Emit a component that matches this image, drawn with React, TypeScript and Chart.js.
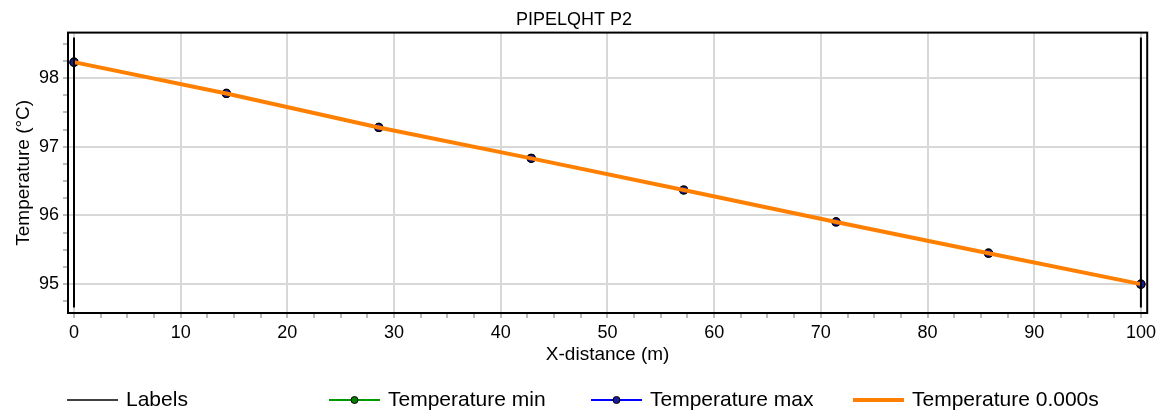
import React, { useEffect, useRef } from "react";
import { Chart, registerables } from "chart.js";

Chart.register(...registerables);

// ---- data ----
const chartTitle = "PIPELQHT P2";
const xTitle = "X-distance (m)";
const yTitle = "Temperature (°C)";
const xDistance = [0, 14.2857, 28.5714, 42.8571, 57.1429, 71.4286, 85.7143, 100];
const temperature0 = [98.23, 97.775, 97.28, 96.83, 96.37, 95.905, 95.45, 95.0];
const temperatureMin = [98.23, 97.775, 97.28, 96.83, 96.37, 95.905, 95.45, 95.0];
const temperatureMax = [98.23, 97.775, 97.28, 96.83, 96.37, 95.905, 95.45, 95.0];
const labelPositions = [0, 100];
const labelYRange = [94.66, 98.59];
const xRange = [-0.56, 100.59];
const yRange = [94.58, 98.66];
const seriesNames = ["Labels", "Temperature min", "Temperature max", "Temperature 0.000s"];

const FONT = "'Liberation Sans', Arial, sans-serif";

const framePlugin = {
  id: "frame",
  afterDraw(chart: any) {
    const { ctx, chartArea } = chart;
    ctx.save();
    ctx.strokeStyle = "#000";
    ctx.lineWidth = 2;
    ctx.strokeRect(chartArea.left, chartArea.top, chartArea.right - chartArea.left, chartArea.bottom - chartArea.top);
    ctx.restore();

    // legend in fixed columns
    const y = 400;
    const startX = 67;
    const colW = 262;
    const lineLen = 51;
    ctx.save();
    ctx.font = `21px ${FONT}`;
    ctx.textBaseline = "middle";
    ctx.textAlign = "left";
    chart.data.datasets.forEach((ds: any, i: number) => {
      const x0 = startX + i * colW;
      ctx.strokeStyle = ds.borderColor;
      ctx.lineWidth = ds.legendLineWidth;
      ctx.beginPath();
      ctx.moveTo(x0, y);
      ctx.lineTo(x0 + lineLen, y);
      ctx.stroke();
      if (ds.legendMarker) {
        ctx.beginPath();
        ctx.arc(x0 + lineLen / 2, y, 3.5, 0, Math.PI * 2);
        ctx.fillStyle = ds.pointBackgroundColor;
        ctx.fill();
        ctx.lineWidth = 1;
        ctx.strokeStyle = "#000";
        ctx.stroke();
      }
      ctx.fillStyle = "#000";
      ctx.fillText(ds.label, x0 + lineLen + 8, y);
    });
    ctx.restore();
  },
};

export default function App() {
  const ref = useRef<HTMLCanvasElement | null>(null);
  useEffect(() => {
    if (!ref.current) return;
    const labelData: any[] = [];
    labelPositions.forEach((p, i) => {
      if (i > 0) labelData.push({ x: p, y: null });
      labelData.push({ x: p, y: labelYRange[0] });
      labelData.push({ x: p, y: labelYRange[1] });
    });
    const pts = (arr: number[]) => arr.map((v, i) => ({ x: xDistance[i], y: v }));
    const chart = new Chart(ref.current, {
      type: "line",
      data: {
        datasets: [
          {
            label: seriesNames[0],
            data: labelData,
            borderColor: "#000",
            borderWidth: 2,
            pointRadius: 0,
            spanGaps: false,
            order: 0,
            legendLineWidth: 1.7,
            legendMarker: false,
          } as any,
          {
            label: seriesNames[1],
            data: pts(temperatureMin),
            borderColor: "#009900",
            borderWidth: 2,
            pointRadius: 4,
            pointBackgroundColor: "#008000",
            pointBorderColor: "#000",
            pointBorderWidth: 1.2,
            order: 3,
            legendLineWidth: 2,
            legendMarker: true,
          } as any,
          {
            label: seriesNames[2],
            data: pts(temperatureMax),
            borderColor: "#0000ff",
            borderWidth: 2,
            pointRadius: 4,
            pointBackgroundColor: "#1a1a9a",
            pointBorderColor: "#000",
            pointBorderWidth: 1.2,
            order: 2,
            legendLineWidth: 2,
            legendMarker: true,
          } as any,
          {
            label: seriesNames[3],
            data: pts(temperature0),
            borderColor: "#ff8000",
            borderWidth: 4,
            pointRadius: 0,
            order: 1,
            legendLineWidth: 4,
            legendMarker: false,
          } as any,
        ],
      },
      options: {
        animation: false,
        responsive: false,
        layout: { padding: { left: 0, right: 12, top: 0, bottom: 42 } },
        plugins: {
          legend: { display: false },
          tooltip: { enabled: false },
          title: {
            display: true,
            text: chartTitle,
            color: "#000",
            font: { family: FONT, size: 18, weight: "normal", lineHeight: 1.2 },
            padding: { top: 9, bottom: 2 },
          },
        },
        scales: {
          x: {
            type: "linear",
            min: xRange[0],
            max: xRange[1],
            border: { display: false },
            afterFit(scale: any) {
              scale.height = 60;
            },
            ticks: {
              stepSize: 2.5,
              includeBounds: false,
              autoSkip: false,
              maxRotation: 0,
              padding: 4,
              color: "#000",
              font: { family: FONT, size: 18 },
              callback: (v: any) => (Math.abs(v / 10 - Math.round(v / 10)) < 1e-6 ? String(Math.round(v)) : ""),
            },
            grid: {
              color: (c: any) =>
                c.tick && Math.abs(c.tick.value / 10 - Math.round(c.tick.value / 10)) < 1e-6 ? "#d8d8d8" : "rgba(0,0,0,0)",
              lineWidth: 2,
              tickColor: "#777",
              tickLength: 5,
              tickWidth: 1,
            },
            title: {
              display: true,
              text: xTitle,
              color: "#000",
              font: { family: FONT, size: 19, lineHeight: 1.2 },
              padding: { top: 0, bottom: 6.6 },
            },
          },
          y: {
            type: "linear",
            min: yRange[0],
            max: yRange[1],
            border: { display: false },
            afterFit(scale: any) {
              scale.width = 68;
            },
            ticks: {
              stepSize: 0.25,
              includeBounds: false,
              autoSkip: false,
              padding: 4,
              color: "#000",
              font: { family: FONT, size: 18 },
              callback: (v: any) => (Math.abs(v - Math.round(v)) < 1e-6 ? String(Math.round(v)) : ""),
            },
            grid: {
              color: (c: any) =>
                c.tick && Math.abs(c.tick.value - Math.round(c.tick.value)) < 1e-6 ? "#d8d8d8" : "rgba(0,0,0,0)",
              lineWidth: 2,
              tickColor: "#777",
              tickLength: 5,
              tickWidth: 1,
            },
            title: {
              display: true,
              text: yTitle,
              color: "#000",
              font: { family: FONT, size: 19, lineHeight: 1.2 },
              padding: { top: 12, bottom: 0 },
            },
          },
        },
      } as any,
      plugins: [framePlugin],
    });
    return () => chart.destroy();
  }, []);
  return (
    <div style={{ position: "fixed", left: 0, top: 0, width: 1160, height: 415, background: "#fff" }}>
      <canvas ref={ref} width={1160} height={415} />
    </div>
  );
}
